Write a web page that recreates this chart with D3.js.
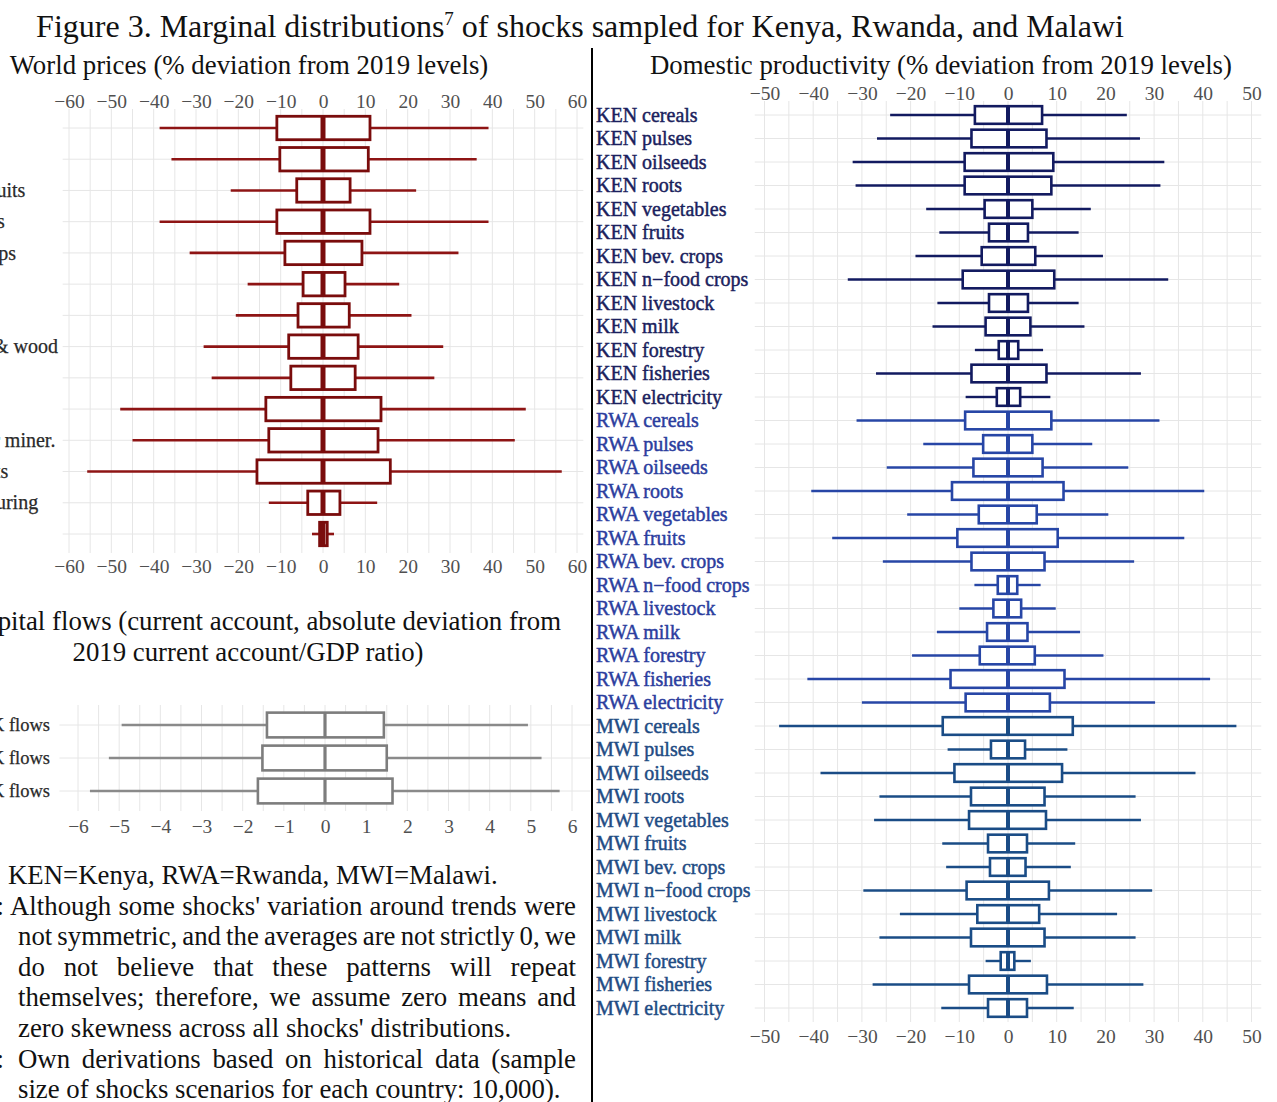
<!DOCTYPE html>
<html>
<head>
<meta charset="utf-8">
<script src="https://cdn.jsdelivr.net/npm/d3@7"></script>
<style>
  html, body { margin: 0; padding: 0; background: #fff; overflow: hidden; }
  svg { display: block; }
  text { font-family: "Liberation Serif", "Times New Roman", serif; }
</style>
</head>
<body>
<svg id="fig" width="1277" height="1102"></svg>
<script>
// ---------------- World prices (% deviation from 2019 levels) ----------------
const worldCategories = ["Cereals", "Oilseeds", "Vegetables & fruits", "Animal products", "Nut & other crops",
  "Livestock", "Dairy", "Paper, forestry & wood", "Fish", "Crude oil", "Oil, gas & other miner.",
  "Mineral products", "Other manufacturing", "Services"];
const worldWhiskerLow  = [-38.6, -35.8, -21.8, -38.6, -31.5, -17.8, -20.6, -28.2, -26.3, -47.9, -45.0, -55.7, -12.8, -2.6];
const worldBoxLow      = [-10.9, -10.2,  -6.2, -10.9,  -9.0,  -4.7,  -5.9,  -8.1,  -7.6, -13.5, -12.8, -15.6,  -3.6, -0.8];
const worldMedian      = [0, 0, 0, 0, 0, 0, 0, 0, 0, 0, 0, 0, 0, 0];
const worldBoxHigh     = [11.1, 10.7, 6.4, 11.1, 9.2, 5.2, 6.2, 8.3, 7.6, 13.7, 13.0, 15.9, 4.0, 1.0];
const worldWhiskerHigh = [39.1, 36.3, 22.0, 39.1, 32.0, 18.0, 20.9, 28.4, 26.3, 47.9, 45.3, 56.4, 12.8, 2.6];
const worldTicks = [-60, -50, -40, -30, -20, -10, 0, 10, 20, 30, 40, 50, 60];

// ---------------- Capital flows (current account/GDP deviation) ----------------
const capCategories = ["KEN K flows", "RWA K flows", "MWI K flows"];
const capWhiskerLow  = [-4.94, -5.25, -5.71];
const capBoxLow      = [-1.41, -1.52, -1.63];
const capMedian      = [0, 0, 0];
const capBoxHigh     = [1.43, 1.50, 1.64];
const capWhiskerHigh = [4.93, 5.26, 5.70];
const capTicks = [-6, -5, -4, -3, -2, -1, 0, 1, 2, 3, 4, 5, 6];

// ---------------- Domestic productivity (% deviation from 2019 levels) ----------------
const prodSectors = ["cereals", "pulses", "oilseeds", "roots", "vegetables", "fruits", "bev. crops",
  "n\u2212food crops", "livestock", "milk", "forestry", "fisheries", "electricity"];
const prodCountries = ["KEN", "RWA", "MWI"];
const prodCategories = prodCountries.flatMap(c => prodSectors.map(s => c + " " + s));
const prodWhiskerLow = [
  -24.2, -26.9, -31.9, -31.3, -16.8, -14.1, -19.0, -32.9, -14.5, -15.5, -6.8, -27.1, -8.7,
  -31.1, -17.4, -24.9, -40.4, -20.7, -36.1, -25.7, -6.9, -10.0, -14.6, -19.7, -41.2, -30.0,
  -47.0, -12.4, -38.5, -26.4, -27.5, -13.5, -12.7, -29.7, -22.2, -26.4, -4.6, -27.8, -13.7];
const prodBoxLow = [
  -6.8, -7.5, -8.9, -8.9, -4.8, -3.9, -5.4, -9.3, -3.9, -4.6, -1.9, -7.5, -2.3,
  -8.8, -5.1, -7.1, -11.5, -6.0, -10.4, -7.5, -2.1, -3.0, -4.3, -5.8, -11.8, -8.7,
  -13.4, -3.5, -11.0, -7.6, -8.0, -4.1, -3.7, -8.5, -6.3, -7.6, -1.5, -8.0, -4.1];
const prodMedian = prodCategories.map(() => 0);
const prodBoxHigh = [
  7.0, 7.9, 9.3, 8.9, 5.0, 4.1, 5.6, 9.5, 4.1, 4.6, 2.1, 7.9, 2.5,
  8.9, 5.0, 7.1, 11.4, 5.9, 10.2, 7.5, 1.9, 2.7, 4.0, 5.5, 11.6, 8.6,
  13.3, 3.5, 11.1, 7.5, 7.8, 3.9, 3.6, 8.4, 6.4, 7.5, 1.3, 8.0, 3.9];
const prodWhiskerHigh = [
  24.4, 27.1, 32.1, 31.3, 17.0, 14.5, 19.5, 32.9, 14.5, 15.7, 7.2, 27.3, 8.7,
  31.1, 17.3, 24.7, 40.3, 20.6, 36.2, 25.9, 6.7, 9.8, 14.8, 19.6, 41.5, 30.2,
  46.9, 12.2, 38.5, 26.2, 27.3, 13.8, 12.9, 29.6, 22.4, 26.2, 4.7, 27.8, 13.5];
const prodTicks = [-50, -40, -30, -20, -10, 0, 10, 20, 30, 40, 50];

// ---------------- styling ----------------
const countryLabelColor = { KEN: "#1b1f5e", RWA: "#2b3d9e", MWI: "#1f4c84" };
const countryBoxColor   = { KEN: "#121a60", RWA: "#2746a6", MWI: "#1a4c86" };
const gridColor = "#e6e6e6";
const tickColor = "#505050";

const svg = d3.select("#fig");

// ---------- generic horizontal box-plot panel ----------
function boxPanel(cfg) {
  const g = svg.append("g");
  const x = cfg.x, y = cfg.y;
  const [px0, px1] = cfg.extent.map(x);
  const [py0, py1] = cfg.yExtent;

  // vertical grid (major + minor)
  const gridVals = d3.range(cfg.ticks[0], cfg.ticks[cfg.ticks.length - 1] + cfg.minor / 2, cfg.minor);
  g.append("g").selectAll("line").data(gridVals).join("line")
    .attr("x1", d => x(d)).attr("x2", d => x(d))
    .attr("y1", py0).attr("y2", py1)
    .attr("stroke", gridColor).attr("stroke-width", 1);
  // horizontal grid
  g.append("g").selectAll("line").data(cfg.cats).join("line")
    .attr("x1", px0).attr("x2", px1)
    .attr("y1", d => y(d)).attr("y2", d => y(d))
    .attr("stroke", gridColor).attr("stroke-width", 1);

  const rows = cfg.cats.map((c, i) => ({
    c, lo: cfg.lo[i], q1: cfg.q1[i], med: cfg.med[i], q3: cfg.q3[i], hi: cfg.hi[i]
  }));
  const step = y.step();
  const bh = step * 0.75;
  const rg = g.append("g").selectAll("g").data(rows).join("g");
  rg.append("line")
    .attr("x1", d => x(d.lo)).attr("x2", d => x(d.q1))
    .attr("y1", d => y(d.c)).attr("y2", d => y(d.c))
    .attr("stroke", d => cfg.color(d.c)).attr("stroke-width", cfg.whiskerW);
  rg.append("line")
    .attr("x1", d => x(d.q3)).attr("x2", d => x(d.hi))
    .attr("y1", d => y(d.c)).attr("y2", d => y(d.c))
    .attr("stroke", d => cfg.color(d.c)).attr("stroke-width", cfg.whiskerW);
  rg.append("rect")
    .attr("x", d => x(d.q1)).attr("width", d => x(d.q3) - x(d.q1))
    .attr("y", d => y(d.c) - bh / 2).attr("height", bh)
    .attr("fill", "#fff")
    .attr("stroke", d => cfg.boxColor(d.c)).attr("stroke-width", cfg.boxW);
  rg.append("line")
    .attr("x1", d => x(d.med)).attr("x2", d => x(d.med))
    .attr("y1", d => y(d.c) - bh / 2).attr("y2", d => y(d.c) + bh / 2)
    .attr("stroke", d => cfg.boxColor(d.c)).attr("stroke-width", cfg.medW);

  // axes
  const styleAxis = a => {
    a.attr("font-family", null);
    a.select(".domain").remove();
    a.selectAll("text").attr("fill", tickColor).attr("font-size", cfg.tickSize)
      .style("font-family", '"Liberation Serif", serif');
  };
  if (cfg.topAxisY !== undefined) {
    g.append("g").attr("transform", `translate(0,${cfg.topAxisY})`)
      .call(d3.axisTop(x).tickValues(cfg.ticks).tickSize(0).tickPadding(0))
      .call(styleAxis);
  }
  if (cfg.bottomAxisY !== undefined) {
    g.append("g").attr("transform", `translate(0,${cfg.bottomAxisY})`)
      .call(d3.axisBottom(x).tickValues(cfg.ticks).tickSize(0).tickPadding(0))
      .call(styleAxis);
  }

  // category labels
  g.append("g").selectAll("text").data(cfg.cats).join("text")
    .attr("x", cfg.labelX).attr("y", d => y(d)).attr("dy", "0.33em")
    .attr("text-anchor", cfg.labelAnchor)
    .attr("font-size", cfg.labelSize)
    .attr("fill", d => cfg.labelColor(d))
    .attr("stroke", d => cfg.labelColor(d)).attr("stroke-width", cfg.labelStroke || 0)
    .text(d => d);
  return g;
}

// ---------- World prices ----------
const xWorld = d3.scaleLinear().domain([-60, 60]).range([69, 577]);
const yWorld = d3.scalePoint().domain(worldCategories).range([128, 534]);
boxPanel({
  x: xWorld, y: yWorld, cats: worldCategories,
  lo: worldWhiskerLow, q1: worldBoxLow, med: worldMedian, q3: worldBoxHigh, hi: worldWhiskerHigh,
  extent: [-61.5, 61.5], yExtent: [109, 553], ticks: worldTicks, minor: 5,
  color: () => "#8e1414", boxColor: () => "#7a0c0c",
  whiskerW: 2.6, boxW: 2.8, medW: 5,
  topAxisY: 108, bottomAxisY: 559, tickSize: 19.5,
  labelX: -129, labelAnchor: "start", labelSize: 20, labelColor: () => "#2a2a2a", labelStroke: 0.25
});

// ---------- Capital flows ----------
const xCap = d3.scaleLinear().domain([-6, 6]).range([78, 572]);
const yCap = d3.scalePoint().domain(capCategories).range([725, 791]);
boxPanel({
  x: xCap, y: yCap, cats: capCategories,
  lo: capWhiskerLow, q1: capBoxLow, med: capMedian, q3: capBoxHigh, hi: capWhiskerHigh,
  extent: [-6.45, 6.45], yExtent: [705, 811], ticks: capTicks, minor: 0.5,
  color: () => "#8a8a8a", boxColor: () => "#7d7d7d",
  whiskerW: 2.6, boxW: 2.6, medW: 3.2,
  bottomAxisY: 819, tickSize: 19.5,
  labelX: 50, labelAnchor: "end", labelSize: 18.5, labelColor: () => "#2a2a2a", labelStroke: 0.25
});

// ---------- Domestic productivity ----------
const xProd = d3.scaleLinear().domain([-50, 50]).range([764.5, 1251.5]);
const yProd = d3.scalePoint().domain(prodCategories).range([115, 1008]);
const countryOf = c => c.slice(0, 3);
boxPanel({
  x: xProd, y: yProd, cats: prodCategories,
  lo: prodWhiskerLow, q1: prodBoxLow, med: prodMedian, q3: prodBoxHigh, hi: prodWhiskerHigh,
  extent: [-52, 52], yExtent: [101, 1022], ticks: prodTicks, minor: 5,
  color: c => countryBoxColor[countryOf(c)], boxColor: c => countryBoxColor[countryOf(c)],
  whiskerW: 2.4, boxW: 2.6, medW: 4,
  topAxisY: 100, bottomAxisY: 1029, tickSize: 19.5,
  labelX: 596, labelAnchor: "start", labelSize: 20, labelColor: c => countryLabelColor[countryOf(c)],
  labelStroke: 0.45
});

// ---------- titles ----------
const title = svg.append("text").attr("x", 580).attr("y", 37)
  .attr("text-anchor", "middle").attr("font-size", 32).attr("fill", "#111");
title.append("tspan").text("Figure 3. Marginal distributions");
title.append("tspan").attr("font-size", 19).attr("dy", -12).text("7");
title.append("tspan").attr("dy", 12).text(" of shocks sampled for Kenya, Rwanda, and Malawi");

svg.append("text").attr("x", 249).attr("y", 74).attr("text-anchor", "middle")
  .attr("font-size", 26.8).attr("fill", "#111")
  .text("World prices (% deviation from 2019 levels)");
svg.append("text").attr("x", 941).attr("y", 74).attr("text-anchor", "middle")
  .attr("font-size", 26.8).attr("fill", "#111")
  .text("Domestic productivity (% deviation from 2019 levels)");
svg.append("text").attr("x", 561).attr("y", 630).attr("text-anchor", "end")
  .attr("font-size", 26.8).attr("fill", "#111")
  .text("Capital flows (current account, absolute deviation from");
svg.append("text").attr("x", 248).attr("y", 661).attr("text-anchor", "middle")
  .attr("font-size", 26.8).attr("fill", "#111")
  .text("2019 current account/GDP ratio)");

// divider between the two columns
svg.append("line").attr("x1", 592).attr("x2", 592).attr("y1", 48).attr("y2", 1102)
  .attr("stroke", "#000").attr("stroke-width", 2);

// ---------- notes, justified ----------
const noteSize = 26.8;
function noteLine(str, x0, x1, yb, justify) {
  const t = svg.append("text").attr("y", yb).attr("font-size", noteSize).attr("fill", "#111");
  const words = str.split(" ");
  const spans = words.map(w => t.append("tspan").text(w));
  const widths = spans.map(s => s.node().getComputedTextLength());
  const total = d3.sum(widths);
  const space = justify && words.length > 1
    ? (x1 - x0 - total) / (words.length - 1)
    : noteSize * 0.25;
  let cx = x0;
  spans.forEach((s, i) => { s.attr("x", cx); cx += widths[i] + space; });
}
function prefix(str, xEnd, yb) {
  svg.append("text").attr("x", xEnd).attr("y", yb).attr("text-anchor", "end")
    .attr("font-size", noteSize).attr("fill", "#111").text(str);
}
const lh = 30.6;
const y0 = 884;
noteLine("KEN=Kenya, RWA=Rwanda, MWI=Malawi.", 8, 576, y0, false);
prefix("7:", 4, y0 + lh);
noteLine("Although some shocks' variation around trends were", 10, 576, y0 + lh, true);
noteLine("not symmetric, and the averages are not strictly 0, we", 18, 576, y0 + 2 * lh, true);
noteLine("do not believe that these patterns will repeat", 18, 576, y0 + 3 * lh, true);
noteLine("themselves; therefore, we assume zero means and", 18, 576, y0 + 4 * lh, true);
noteLine("zero skewness across all shocks' distributions.", 18, 576, y0 + 5 * lh, false);
prefix("Source:", 4, y0 + 6 * lh);
noteLine("Own derivations based on historical data (sample", 18, 576, y0 + 6 * lh, true);
noteLine("size of shocks scenarios for each country: 10,000).", 18, 576, y0 + 7 * lh, false);
</script>
</body>
</html>
